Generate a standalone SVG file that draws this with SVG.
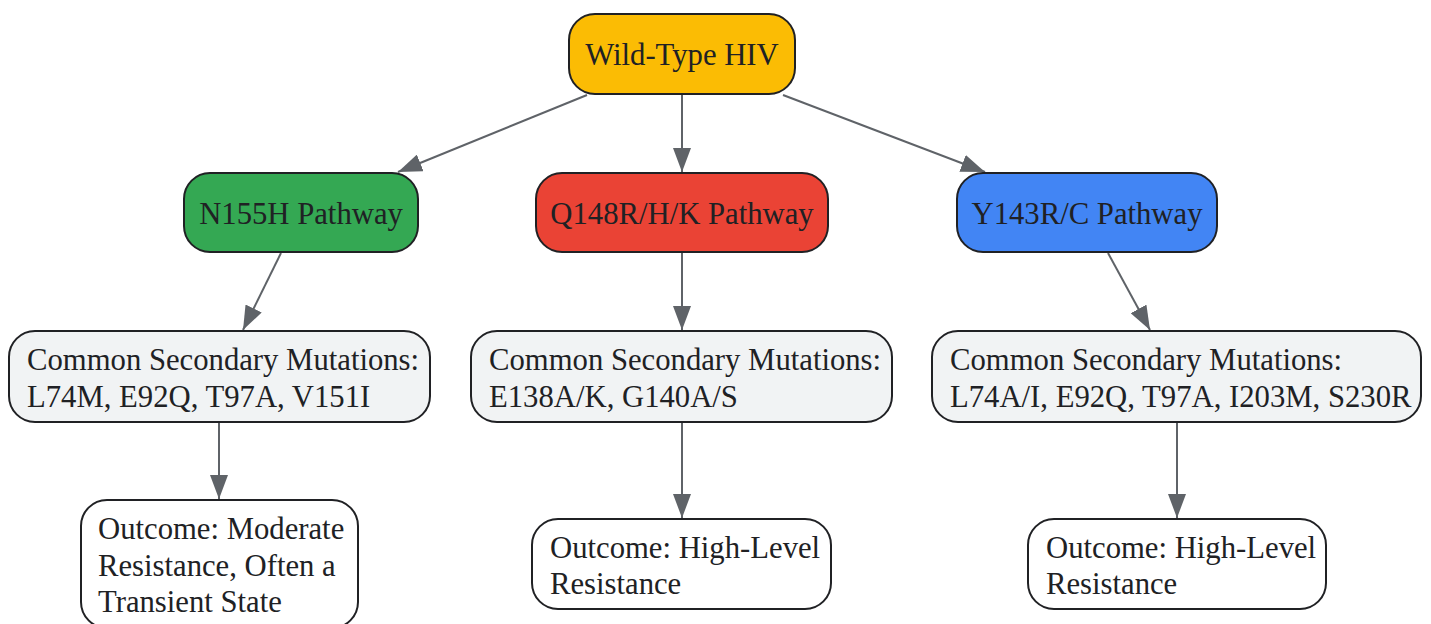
<svg xmlns="http://www.w3.org/2000/svg" width="1431" height="624" viewBox="0 0 1431 624">
<style>
.n rect{stroke:#202124;stroke-width:2}
.n text{font-family:"Liberation Serif","Times New Roman",serif;font-size:30.7px;fill:#202124}
.c{text-anchor:middle}
.e path{fill:none;stroke:#5F6368;stroke-width:2;marker-end:url(#ah)}
</style>
<defs>
<marker id="ah" markerUnits="userSpaceOnUse" markerWidth="24" markerHeight="18" refX="24" refY="9" orient="auto">
<path d="M0,0 L24,9 L0,18 z" fill="#5F6368"/>
</marker>
</defs>
<rect width="1431" height="624" fill="#ffffff"/>
<g id="edges" class="e">
<path d="M587,95 L398,172"/>
<path d="M682,95 L682,172"/>
<path d="M783,95 L985,172"/>
<path d="M281,253 L243,330"/>
<path d="M682,253 L682,330"/>
<path d="M1108,253 L1150,330"/>
<path d="M219,423 L219,499"/>
<path d="M682,423 L682,518"/>
<path d="M1177,423 L1177,518"/>
</g>
<g id="wt" class="n"><rect x="569" y="14" width="226" height="80" rx="26" fill="#FBBC04"/><text class="c" x="682" y="65">Wild-Type HIV</text></g>
<g id="n155h" class="n"><rect x="184" y="173" width="234" height="79" rx="26" fill="#34A853"/><text class="c" x="301" y="224">N155H Pathway</text></g>
<g id="q148" class="n"><rect x="536" y="173" width="292" height="79" rx="26" fill="#EA4335"/><text class="c" x="682" y="224">Q148R/H/K Pathway</text></g>
<g id="y143" class="n"><rect x="957" y="173" width="260" height="79" rx="26" fill="#4285F4"/><text class="c" x="1087" y="224">Y143R/C Pathway</text></g>
<g id="sec1" class="n"><rect x="9" y="331" width="421" height="91" rx="26" fill="#F1F3F4"/><text x="27" y="370">Common Secondary Mutations:</text><text x="27" y="407">L74M, E92Q, T97A, V151I</text></g>
<g id="sec2" class="n"><rect x="471" y="331" width="421" height="91" rx="26" fill="#F1F3F4"/><text x="489" y="370">Common Secondary Mutations:</text><text x="489" y="407">E138A/K, G140A/S</text></g>
<g id="sec3" class="n"><rect x="932" y="331" width="489" height="91" rx="26" fill="#F1F3F4"/><text x="950" y="370">Common Secondary Mutations:</text><text x="950" y="407">L74A/I, E92Q, T97A, I203M, S230R</text></g>
<g id="out1" class="n"><rect x="81" y="500" width="277" height="128" rx="26" fill="#ffffff"/><text x="98" y="539">Outcome: Moderate</text><text x="98" y="576">Resistance, Often a</text><text x="98" y="612">Transient State</text></g>
<g id="out2" class="n"><rect x="532" y="519" width="299" height="90" rx="26" fill="#ffffff"/><text x="550" y="558">Outcome: High-Level</text><text x="550" y="594">Resistance</text></g>
<g id="out3" class="n"><rect x="1028" y="519" width="298" height="90" rx="26" fill="#ffffff"/><text x="1046" y="558">Outcome: High-Level</text><text x="1046" y="594">Resistance</text></g>
</svg>
